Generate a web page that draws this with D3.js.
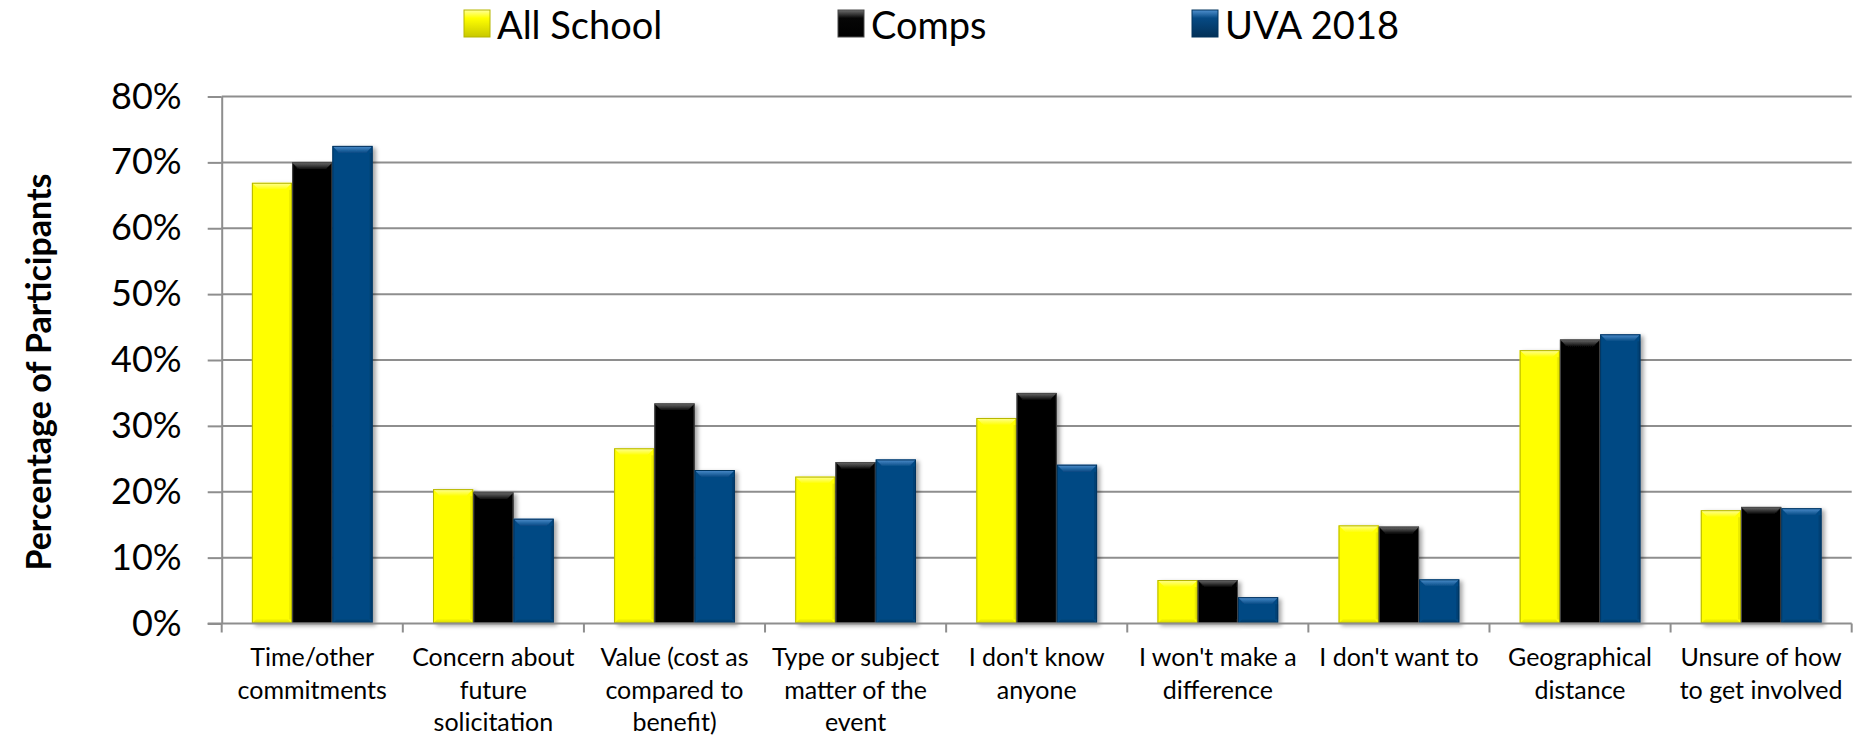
<!DOCTYPE html>
<html>
<head>
<meta charset="utf-8">
<script src="https://cdn.jsdelivr.net/npm/d3@7"></script>
<style>
  body { margin: 0; background: #fff; }
  svg { display: block; font-family: Lato, "Noto Sans", sans-serif; }
</style>
</head>
<body>
<div class="container"></div>
<script>
// data
const categories = ["Time/other commitments", "Concern about future solicitation",
  "Value (cost as compared to benefit)", "Type or subject matter of the event",
  "I don't know anyone", "I won't make a difference", "I don't want to",
  "Geographical distance", "Unsure of how to get involved"]
const tickLabels = [["Time/other", "commitments"], ["Concern about", "future", "solicitation"],
  ["Value (cost as", "compared to", "benefit)"], ["Type or subject", "matter of the", "event"],
  ["I don't know", "anyone"], ["I won't make a", "difference"], ["I don't want to"],
  ["Geographical", "distance"], ["Unsure of how", "to get involved"]]
const seriesNames = ["All School", "Comps", "UVA 2018"]
const allSchool = [0.669, 0.204, 0.266, 0.223, 0.312, 0.066, 0.149, 0.415, 0.172]
const comps     = [0.700, 0.199, 0.334, 0.245, 0.350, 0.066, 0.147, 0.431, 0.177]
const uva2018   = [0.725, 0.159, 0.233, 0.249, 0.241, 0.040, 0.067, 0.439, 0.175]
const yTicks = [0, 0.1, 0.2, 0.3, 0.4, 0.5, 0.6, 0.7, 0.8]

const onLoad = () => {
    const w = 1864
    const h = 738
    const left = 221.7, right = 1851.7, top = 96.5, bottom = 623.5
    const gridColor = "#8e8e8e"

    const svg = d3.select(".container")
    .append("svg")
    .attr("width", w)
    .attr("height", h)

    const styles = [
        {name: seriesNames[0], base: "#ffff00", light: "#ffff9a", dark: "#c8c800", edge: "#b5b500"},
        {name: seriesNames[1], base: "#060606", light: "#6e6e6e", dark: "#000000", edge: "#4a4a4a"},
        {name: seriesNames[2], base: "#064a84", light: "#4f90cf", dark: "#033158", edge: "#03345e"}
    ]
    const values = [allSchool, comps, uva2018]

    const defs = svg.append("defs")
    const shadow = defs.append("filter").attr("id", "shadow")
    .attr("x", "-20%").attr("y", "-10%").attr("width", "150%").attr("height", "130%")
    shadow.append("feDropShadow")
    .attr("dx", 3).attr("dy", 2).attr("stdDeviation", 2)
    .attr("flood-color", "#000").attr("flood-opacity", 0.35)

    styles.forEach((s, i) => {
        const gTop = defs.append("linearGradient").attr("id", "top" + i)
        .attr("x1", 0).attr("y1", 0).attr("x2", 0).attr("y2", 1)
        gTop.append("stop").attr("offset", "0%").attr("stop-color", s.light)
        gTop.append("stop").attr("offset", "100%").attr("stop-color", s.base)
        const gBot = defs.append("linearGradient").attr("id", "bot" + i)
        .attr("x1", 0).attr("y1", 0).attr("x2", 0).attr("y2", 1)
        gBot.append("stop").attr("offset", "0%").attr("stop-color", s.base)
        gBot.append("stop").attr("offset", "100%").attr("stop-color", s.dark)
        const gLeg = defs.append("linearGradient").attr("id", "leg" + i)
        .attr("x1", 0).attr("y1", 0).attr("x2", 0).attr("y2", 1)
        gLeg.append("stop").attr("offset", "0%").attr("stop-color", s.light)
        gLeg.append("stop").attr("offset", "30%").attr("stop-color", s.base)
        gLeg.append("stop").attr("offset", "100%").attr("stop-color", s.dark)
    })

    const x = d3.scaleBand().domain(categories).range([left, right]).padding(0)
    const xs = d3.scaleBand().domain(seriesNames).range([0, x.bandwidth()])
    .paddingInner(0).paddingOuter(0.75)
    const y = d3.scaleLinear().domain([0, 0.8]).range([bottom, top])

    // gridlines
    svg.append("g")
    .selectAll("line")
    .data(yTicks.slice(1))
    .enter()
    .append("line")
    .attr("x1", left).attr("x2", right)
    .attr("y1", d => y(d)).attr("y2", d => y(d))
    .attr("stroke", gridColor).attr("stroke-width", 2)

    // y axis
    const yAxis = svg.append("g")
    .attr("transform", `translate(${left},0)`)
    .call(d3.axisLeft(y).tickValues(yTicks).tickFormat(d3.format(".0%"))
        .tickSizeInner(14).tickSizeOuter(0).tickPadding(26))
    yAxis.select(".domain").attr("stroke", gridColor).attr("stroke-width", 2)
    yAxis.selectAll(".tick line").attr("stroke", gridColor).attr("stroke-width", 2)
    yAxis.selectAll(".tick text")
    .attr("font-size", 36).attr("fill", "#000")
    .attr("font-family", "Lato, sans-serif")

    // bars
    const b = 7
    const group = svg.append("g")
    .selectAll("g")
    .data(categories)
    .enter()
    .append("g")
    .attr("transform", d => `translate(${x(d)},0)`)

    const bar = group.selectAll(".bar")
    .data((d, ci) => values.map((v, si) => ({s: si, v: v[ci]})))
    .enter()
    .append("g")
    .attr("class", "bar")
    .attr("filter", "url(#shadow)")

    const bw = xs.bandwidth()
    bar.append("rect")
    .attr("x", d => xs(seriesNames[d.s]))
    .attr("y", d => y(d.v))
    .attr("width", bw)
    .attr("height", d => y(0) - y(d.v))
    .attr("fill", d => styles[d.s].base)

    // top bevel
    bar.append("polygon")
    .attr("points", d => {
        const x0 = xs(seriesNames[d.s]), x1 = x0 + bw, y0 = y(d.v)
        return [[x0, y0], [x1, y0], [x1 - b, y0 + b], [x0 + b, y0 + b]].join(" ")
    })
    .attr("fill", d => `url(#top${d.s})`)

    // bottom bevel
    bar.append("polygon")
    .attr("points", d => {
        const x0 = xs(seriesNames[d.s]), x1 = x0 + bw, y1 = y(0)
        const bb = Math.min(5, (y(0) - y(d.v)) / 3)
        return [[x0, y1], [x1, y1], [x1 - bb, y1 - bb], [x0 + bb, y1 - bb]].join(" ")
    })
    .attr("fill", d => `url(#bot${d.s})`)
    .attr("opacity", 0.8)

    // side shading
    bar.append("rect")
    .attr("x", d => xs(seriesNames[d.s]) + bw - 3)
    .attr("y", d => y(d.v) + b)
    .attr("width", 3)
    .attr("height", d => Math.max(0, y(0) - y(d.v) - b - 4))
    .attr("fill", d => styles[d.s].dark)
    .attr("opacity", 0.35)

    bar.append("rect")
    .attr("x", d => xs(seriesNames[d.s]) + 0.5)
    .attr("y", d => y(d.v) + 0.5)
    .attr("width", bw - 1)
    .attr("height", d => y(0) - y(d.v) - 1)
    .attr("fill", "none")
    .attr("stroke", d => styles[d.s].edge)
    .attr("stroke-width", 1)

    // x axis
    const xAxis = svg.append("g")
    svg.append("line")
    .attr("x1", left - 14).attr("x2", right)
    .attr("y1", bottom).attr("y2", bottom)
    .attr("stroke", gridColor).attr("stroke-width", 2)

    xAxis.selectAll("line")
    .data(d3.range(categories.length + 1))
    .enter()
    .append("line")
    .attr("x1", i => left + i * x.step()).attr("x2", i => left + i * x.step())
    .attr("y1", bottom).attr("y2", bottom + 9)
    .attr("stroke", gridColor).attr("stroke-width", 2)

    xAxis.selectAll("text")
    .data(categories)
    .enter()
    .append("text")
    .attr("text-anchor", "middle")
    .attr("font-size", 25)
    .attr("fill", "#000")
    .selectAll("tspan")
    .data((d, i) => tickLabels[i].map(t => ({t: t, c: d})))
    .enter()
    .append("tspan")
    .attr("x", d => x(d.c) + x.bandwidth() / 2)
    .attr("y", (d, i) => 666 + i * 32.5)
    .text(d => d.t)

    // y title
    svg.append("text")
    .attr("transform", "translate(51,372) rotate(-90)")
    .attr("text-anchor", "middle")
    .attr("font-size", 34)
    .attr("font-weight", "bold")
    .attr("fill", "#000")
    .text("Percentage of Participants")

    // legend
    const legendX = [464, 838, 1192]
    const legendItem = svg.append("g")
    .selectAll("g")
    .data(styles)
    .enter()
    .append("g")
    .attr("transform", (d, i) => `translate(${legendX[i]},10)`)

    legendItem.append("rect")
    .attr("width", 26)
    .attr("height", 27)
    .attr("fill", (d, i) => `url(#leg${i})`)
    .attr("stroke", d => d.edge)
    .attr("stroke-width", 1)

    legendItem.append("text")
    .attr("x", 33)
    .attr("y", 29)
    .attr("font-size", 38)
    .attr("fill", "#000")
    .text(d => d.name)
}
document.addEventListener("DOMContentLoaded", onLoad())
</script>
</body>
</html>
